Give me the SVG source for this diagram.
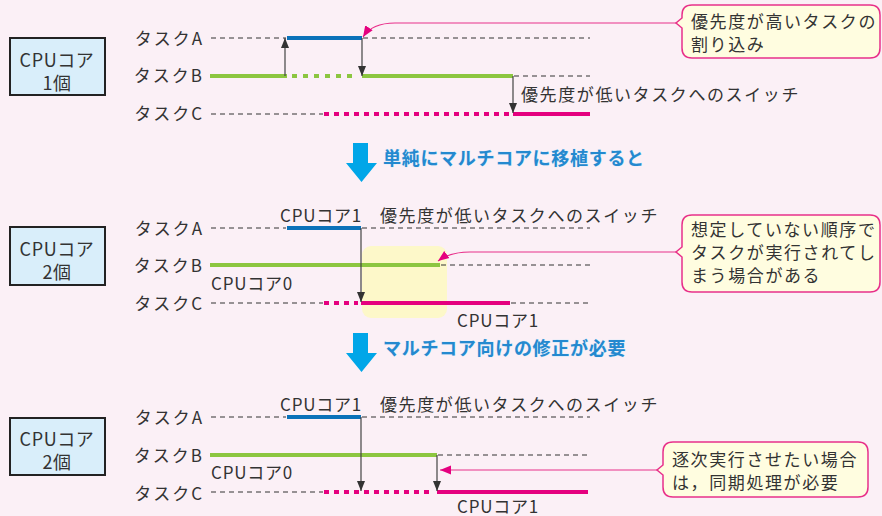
<svg xmlns="http://www.w3.org/2000/svg" width="882" height="516" viewBox="0 0 882 516">
<defs>
<style>
text{font-family:"Noto Sans CJK JP","Noto Sans",sans-serif;fill:#333;font-size:17px;letter-spacing:1.6px}
.lbl{text-anchor:end;letter-spacing:2px}
.cpu{fill:#d9eefa;stroke:#222;stroke-width:2}
.cput{text-anchor:middle;font-size:18px;letter-spacing:0.6px}
.core{letter-spacing:0.8px}
.dash{stroke:#333;stroke-width:1;stroke-dasharray:5 4;fill:none}
.blue{stroke:#0b72b9;stroke-width:4;fill:none}
.green{stroke:#8cc640;stroke-width:4;fill:none}
.greend{stroke:#8cc640;stroke-width:4;stroke-dasharray:5 6;fill:none}
.mag{stroke:#e5007f;stroke-width:4;fill:none}
.magd{stroke:#e5007f;stroke-width:4;stroke-dasharray:5 5;fill:none}
.arr{stroke:#444;stroke-width:1.2;fill:none;marker-end:url(#ah)}
.call{fill:#fffde0;stroke:#e8308a;stroke-width:1.5}
.cl{stroke:#e8308a;stroke-width:1.2;fill:none;marker-end:url(#mh)}
.big{fill:#00a6e8}
.bt{fill:#2489cf;font-weight:bold;font-size:18px;letter-spacing:0.7px;stroke:#cfeafa;stroke-width:0.6;paint-order:stroke}
</style>
<marker id="ah" viewBox="0 0 10 10" refX="10" refY="5" markerWidth="10" markerHeight="10" markerUnits="userSpaceOnUse" orient="auto"><path d="M0,1 L10,5 L0,9 Z" fill="#333"/></marker>
<marker id="mh" viewBox="0 0 10 10" refX="10" refY="5" markerWidth="11" markerHeight="11" markerUnits="userSpaceOnUse" orient="auto"><path d="M0,1 L10,5 L0,9 Z" fill="#e5007f"/></marker>
</defs>
<rect width="882" height="516" fill="#fbf0f6"/>

<!-- Section 1 -->
<g id="cpu1"><rect class="cpu" x="10" y="38" width="95" height="57"/><text class="cput" x="57" y="67">CPUコア</text><text class="cput" x="57" y="90">1個</text></g>
<g id="s1-labels"><text class="lbl" x="204" y="45">タスクA</text><text class="lbl" x="204" y="82">タスクB</text><text class="lbl" x="204" y="120">タスクC</text></g>
<g id="s1-lines">
<line class="dash" x1="211" y1="38" x2="286" y2="38"/>
<line class="blue" x1="287" y1="38" x2="362" y2="38"/>
<line class="dash" x1="363" y1="38" x2="590" y2="38"/>
<line class="green" x1="210" y1="76" x2="287" y2="76"/>
<line class="greend" x1="292" y1="76" x2="358" y2="76"/>
<line class="green" x1="362" y1="76" x2="513" y2="76"/>
<line class="dash" x1="514" y1="76" x2="590" y2="76"/>
<line class="dash" x1="211" y1="114" x2="323" y2="114" stroke="#666"/>
<line class="magd" x1="324" y1="114" x2="510" y2="114"/>
<line class="mag" x1="513" y1="114" x2="590" y2="114"/>
</g>
<g id="s1-text"><text x="521" y="101">優先度が低いタスクへのスイッチ</text></g>
<g id="callout1"><path class="call" d="M692,5 H870 Q880,5 880,15 V48 Q880,58 870,58 H692 Q682,58 682,48 V28 L676,23 L682,18 V15 Q682,5 692,5 Z"/><text x="691" y="28">優先度が高いタスクの</text><text x="691" y="51">割り込み</text></g>

<!-- Arrow 1 -->
<g id="trans1"><path class="big" d="M353,143 H368 V163 H377 L361.5,182 L346,163 H353 Z"/><text class="bt" x="383" y="165">単純にマルチコアに移植すると</text></g>

<!-- Section 2 -->
<rect x="362" y="246" width="85" height="72" rx="9" fill="#fdf8c9"/>
<g id="cpu2"><rect class="cpu" x="10" y="227" width="95" height="58"/><text class="cput" x="57" y="256">CPUコア</text><text class="cput" x="57" y="279">2個</text></g>
<g id="s2-labels"><text class="lbl" x="204" y="235">タスクA</text><text class="lbl" x="204" y="272">タスクB</text><text class="lbl" x="204" y="310">タスクC</text></g>
<g id="s2-lines">
<line class="dash" x1="211" y1="228" x2="286" y2="228"/>
<line class="blue" x1="287" y1="228" x2="361" y2="228"/>
<line class="dash" x1="362" y1="228" x2="590" y2="228"/>
<line class="green" x1="210" y1="265" x2="440" y2="265"/>
<line class="dash" x1="441" y1="265" x2="590" y2="265"/>
<line class="dash" x1="211" y1="303" x2="323" y2="303" stroke="#666"/>
<line class="magd" x1="324" y1="303" x2="358" y2="303"/>
<line class="mag" x1="361" y1="303" x2="510" y2="303"/>
<line class="dash" x1="511" y1="303" x2="590" y2="303"/>
</g>
<g id="s2-text"><text class="core" x="280" y="222">CPUコア1</text><text x="380" y="222">優先度が低いタスクへのスイッチ</text><text class="core" x="211" y="290">CPUコア0</text><text class="core" x="457" y="327">CPUコア1</text></g>
<g id="callout2"><path class="call" d="M692,215 H870 Q880,215 880,225 V282 Q880,292 870,292 H692 Q682,292 682,282 V257 L676,252 L682,247 V225 Q682,215 692,215 Z"/><text x="691" y="236">想定していない順序で</text><text x="691" y="259">タスクが実行されてし</text><text x="691" y="282">まう場合がある</text></g>

<!-- Arrow 2 -->
<g id="trans2"><path class="big" d="M353,333 H368 V353 H377 L361.5,372 L346,353 H353 Z"/><text class="bt" x="383" y="355">マルチコア向けの修正が必要</text></g>

<!-- Section 3 -->
<g id="cpu3"><rect class="cpu" x="10" y="418" width="95" height="57"/><text class="cput" x="57" y="446">CPUコア</text><text class="cput" x="57" y="469">2個</text></g>
<g id="s3-labels"><text class="lbl" x="204" y="424">タスクA</text><text class="lbl" x="204" y="462">タスクB</text><text class="lbl" x="204" y="500">タスクC</text></g>
<g id="s3-lines">
<line class="dash" x1="211" y1="417" x2="286" y2="417"/>
<line class="blue" x1="287" y1="417" x2="361" y2="417"/>
<line class="dash" x1="362" y1="417" x2="590" y2="417"/>
<line class="green" x1="210" y1="455" x2="437" y2="455"/>
<line class="dash" x1="438" y1="455" x2="590" y2="455"/>
<line class="dash" x1="211" y1="492" x2="323" y2="492" stroke="#666"/>
<line class="magd" x1="324" y1="492" x2="434" y2="492"/>
<line class="mag" x1="437" y1="492" x2="588" y2="492"/>
</g>
<g id="s3-text"><text class="core" x="280" y="411">CPUコア1</text><text x="380" y="411">優先度が低いタスクへのスイッチ</text><text class="core" x="211" y="479">CPUコア0</text><text class="core" x="457" y="513">CPUコア1</text></g>
<g id="callout3"><path class="call" d="M673,442 H858 Q868,442 868,452 V487 Q868,497 858,497 H673 Q663,497 663,487 V475 L657,470 L663,465 V452 Q663,442 673,442 Z"/><text x="672" y="466">逐次実行させたい場合</text><text x="672" y="489">は，同期処理が必要</text></g>

<!-- Connectors -->
<g id="connectors">
<line class="arr" x1="285" y1="76" x2="285" y2="38"/>
<line class="arr" x1="362" y1="38" x2="362" y2="76"/>
<line class="arr" x1="513" y1="76" x2="513" y2="113"/>
<path class="cl" d="M676,23 H395 Q372,23 363,37"/>
<line class="arr" x1="361" y1="228" x2="361" y2="302"/>
<path class="cl" d="M676,252 H470 Q450,252 438,261"/>
<line class="arr" x1="361" y1="417" x2="361" y2="491"/>
<line class="arr" x1="437" y1="455" x2="437" y2="491"/>
<line class="cl" x1="657" y1="470" x2="440" y2="470"/>
</g>
</svg>
